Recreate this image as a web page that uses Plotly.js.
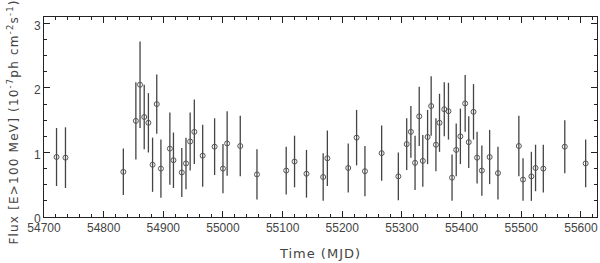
<!DOCTYPE html>
<html>
<head>
<meta charset="utf-8">
<script src="https://cdn.plot.ly/plotly-3.0.1.min.js"></script>
<style>
  html, body { margin: 0; padding: 0; background: #fff; }
  #viz { width: 600px; height: 263px; }
  /* the original titles are set with wide letter spacing */
  #viz .ytitle { letter-spacing: 1.2px; }
  #viz .xtitle { letter-spacing: 1px; }
  #viz .g-ytitle { transform: translateY(5px); }
</style>
</head>
<body>
<div id="viz"></div>
<script>
// light curve
const mjd = [
  54721, 54736, 54833, 54854, 54861, 54868, 54875, 54882, 54889, 54896,
  54911, 54917, 54931, 54938, 54945, 54952, 54966, 54986, 55000, 55007,
  55029, 55057, 55106, 55120, 55140, 55168, 55175, 55210, 55224, 55238,
  55266, 55294, 55308, 55315, 55322, 55329, 55335, 55343, 55349, 55357,
  55363, 55371, 55378, 55384, 55391, 55398, 55406, 55412, 55420, 55426,
  55434, 55447, 55461, 55496, 55503, 55517, 55524, 55537, 55573, 55608
];
const flux = [
  0.93, 0.92, 0.70, 1.49, 2.05, 1.55, 1.46, 0.81, 1.75, 0.75,
  1.06, 0.88, 0.69, 0.83, 1.17, 1.32, 0.95, 1.09, 0.75, 1.14,
  1.10, 0.66, 0.72, 0.86, 0.67, 0.62, 0.91, 0.76, 1.23, 0.71,
  0.99, 0.63, 1.13, 1.32, 0.84, 1.56, 0.87, 1.24, 1.72, 1.12,
  1.46, 1.67, 1.64, 0.61, 1.04, 1.25, 1.76, 1.16, 1.63, 0.92,
  0.72, 0.93, 0.68, 1.10, 0.58, 0.63, 0.76, 0.75, 1.09, 0.83
];
const fluxErr = [
  0.45, 0.47, 0.36, 0.60, 0.67, 0.50, 0.46, 0.42, 0.46, 0.45,
  0.56, 0.43, 0.38, 0.40, 0.45, 0.50, 0.48, 0.44, 0.38, 0.50,
  0.47, 0.39, 0.37, 0.40, 0.37, 0.37, 0.43, 0.38, 0.43, 0.39,
  0.43, 0.37, 0.40, 0.40, 0.42, 0.46, 0.40, 0.42, 0.46, 0.41,
  0.45, 0.42, 0.44, 0.36, 0.41, 0.43, 0.44, 0.40, 0.43, 0.40,
  0.39, 0.42, 0.41, 0.47, 0.33, 0.38, 0.36, 0.37, 0.41, 0.37
];
const xTicks = [54700, 54800, 54900, 55000, 55100, 55200, 55300, 55400, 55500, 55600];
const yTicks = [0, 1, 2, 3];

const fnt = { family: 'Liberation Sans, Arial, sans-serif', size: 12, color: '#444' };
const titleFnt = { family: 'DejaVu Sans, sans-serif', size: 12, color: '#444' };

const axisCommon = {
  showgrid: false,
  zeroline: false,
  showline: true,
  linecolor: '#222',
  linewidth: 1,
  mirror: 'allticks',
  ticks: 'inside',
  ticklen: 6,
  tickwidth: 1,
  tickcolor: '#222',
  tickfont: fnt,
  minor: { ticks: 'inside', ticklen: 3, tickcolor: '#222', tickwidth: 1 }
};

const data = [{
  x: mjd,
  y: flux,
  type: 'scatter',
  mode: 'markers',
  marker: {
    symbol: 'circle-open',
    size: 5,
    color: '#555',
    line: { width: 1, color: '#555' }
  },
  error_y: {
    type: 'data',
    array: fluxErr,
    visible: true,
    color: '#444',
    thickness: 1.3,
    width: 0
  },
  hoverinfo: 'none'
}];

const layout = {
  width: 600,
  height: 263,
  margin: { l: 44, r: 3, t: 17, b: 46 },
  paper_bgcolor: '#fff',
  plot_bgcolor: '#fff',
  showlegend: false,
  xaxis: Object.assign({}, axisCommon, {
    range: [54700, 55627],
    tickvals: xTicks,
    ticktext: xTicks.map(String),
    minor: Object.assign({}, axisCommon.minor, { dtick: 20, tick0: 54700 }),
    title: { text: 'Time (MJD)', font: Object.assign({}, titleFnt, { size: 13 }), standoff: 14 }
  }),
  yaxis: Object.assign({}, axisCommon, {
    range: [0, 3.1],
    tickvals: yTicks,
    ticktext: yTicks.map(String),
    ticklabelshift: 2,
    minor: Object.assign({}, axisCommon.minor, { dtick: 0.25, tick0: 0 }),
    title: {
      text: 'Flux [E>100 MeV] (10<sup>-7</sup>ph cm<sup>-2</sup>s<sup>-1</sup>)',
      font: titleFnt,
      standoff: 12
    }
  })
};

Plotly.newPlot('viz', data, layout, { displayModeBar: false, staticPlot: true });
</script>
</body>
</html>
